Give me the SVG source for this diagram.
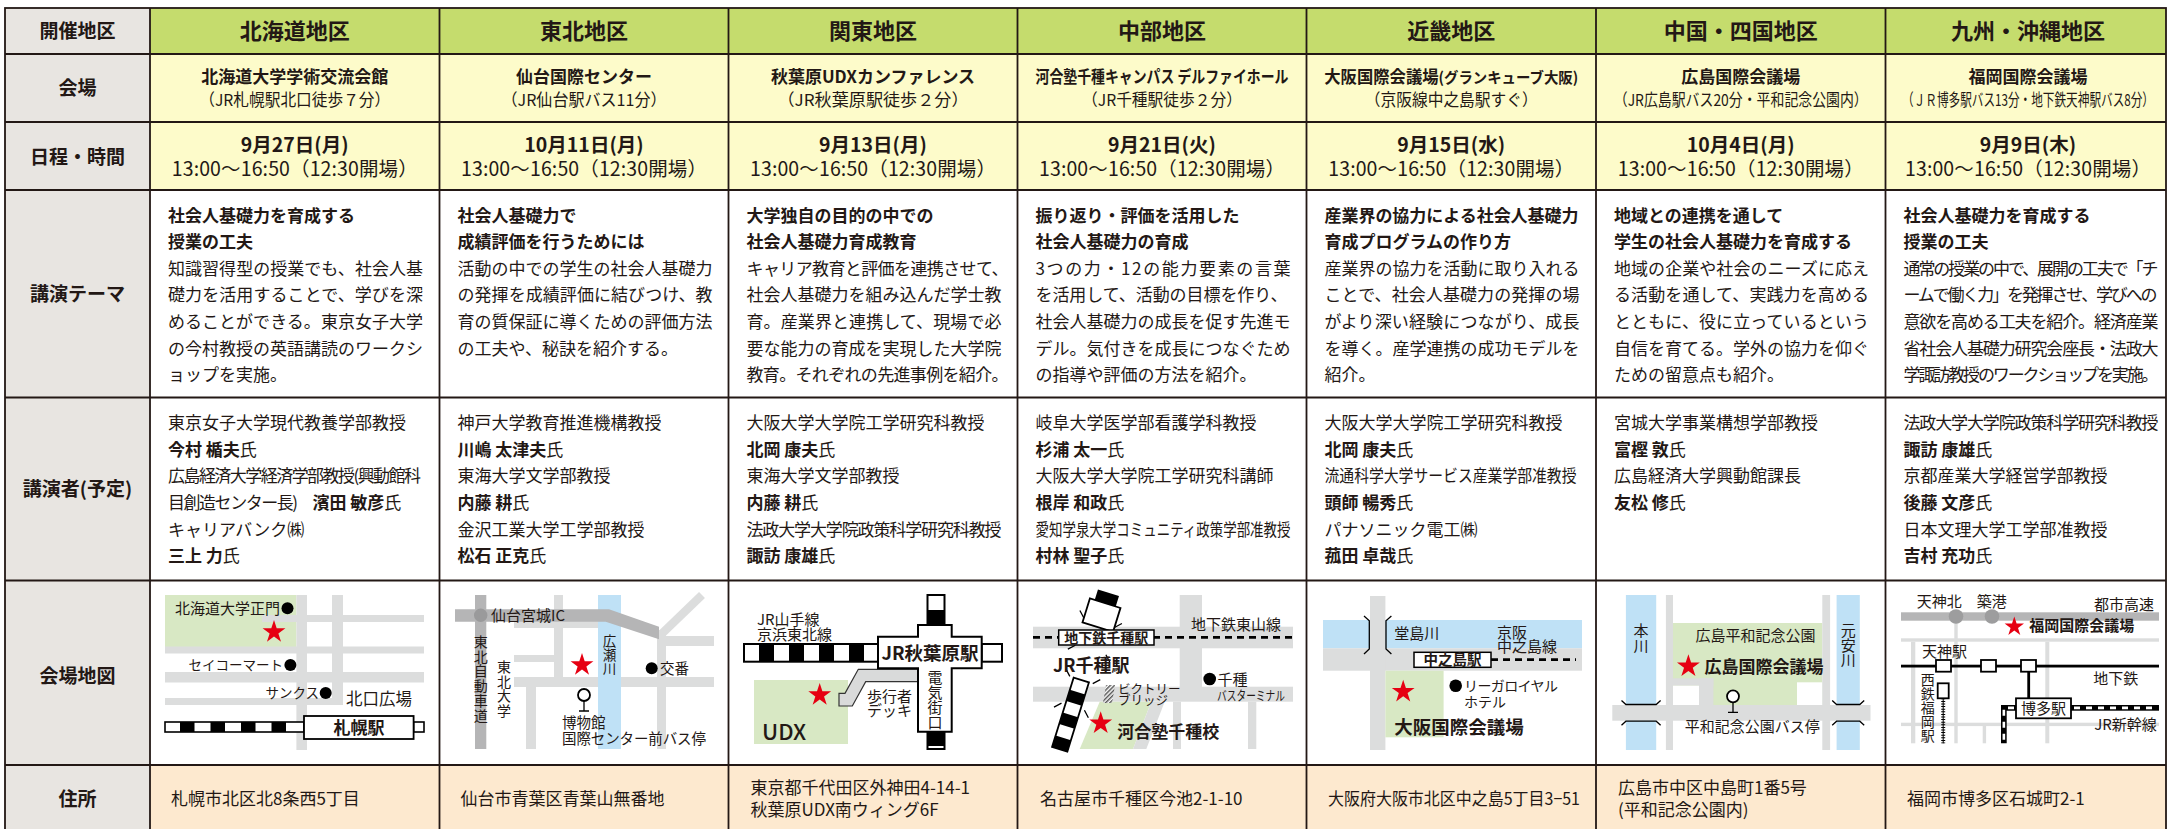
<svg xmlns="http://www.w3.org/2000/svg" width="2168" height="829" viewBox="0 0 2168 829">
<defs>
<style>
text{font-family:"Noto Sans CJK JP","Noto Sans",sans-serif;fill:#231815}
.b{font-weight:700}
.h{font-size:22px;font-weight:700;text-anchor:middle}
.lb{font-size:19px;font-weight:700;text-anchor:middle}
.f17{font-size:17px}
.v2{font-size:16.5px;text-anchor:middle}
.v1{font-size:17px;font-weight:700;text-anchor:middle}
.dt{font-size:19.5px;font-weight:700;text-anchor:middle}
.tm{font-size:19.5px;text-anchor:middle}
.m15{font-size:15px}
.m14{font-size:14.5px}
.m13{font-size:13.5px}
.mid{text-anchor:middle}
.end{text-anchor:end}
.vt{writing-mode:vertical-rl}
.rd{fill:#dcdddd}
.rd2{fill:#b5b5b6}
.rv{fill:#bfe1f6}
.gr{fill:#d8e8c4}
.grid{fill:none;stroke:#231815;stroke-width:1.8}
.bx{fill:#fff;stroke:#000;stroke-width:1.8}
.ln{fill:none;stroke:#000;stroke-width:1.3}
.star{fill:#e60012}
</style>
<path id="star" d="M0,-12 L2.7,-3.71 L11.41,-3.71 L4.37,1.42 L7.05,9.71 L0,4.59 L-7.05,9.71 L-4.37,1.42 L-11.41,-3.71 L-2.7,-3.71 Z"/>
<pattern id="hatch" width="3" height="3" patternUnits="userSpaceOnUse" patternTransform="rotate(45)"><rect width="3" height="3" fill="#fff"/><rect width="1.5" height="3" fill="#555"/></pattern>
</defs>
<rect x="0" y="0" width="2168" height="829" fill="#fff"/>

<g id="table-bg">
<rect x="5" y="8" width="145" height="825" fill="#e8e5e1"/>
<rect x="150" y="8" width="2016" height="46" fill="#c5dc6d"/>
<rect x="150" y="54" width="2016" height="136" fill="#fdfbca"/>
<rect x="150" y="765" width="2016" height="68" fill="#fde9cf"/>
</g>

<g id="header-col">
<text class="lb" x="77.5" y="38">開催地区</text>
<text class="lb" x="77.5" y="95">会場</text>
<text class="lb" x="77.5" y="163.5">日程・時間</text>
<text class="lb" x="77.5" y="300.5">講演テーマ</text>
<text class="lb" x="77.5" y="496">講演者(予定)</text>
<text class="lb" x="77.5" y="683">会場地図</text>
<text class="lb" x="77.5" y="806">住所</text>
</g>

<g id="header-row">
<text class="h" x="294.75" y="39.1">北海道地区</text>
<text class="h" x="584" y="39.1">東北地区</text>
<text class="h" x="873" y="39.1">関東地区</text>
<text class="h" x="1162" y="39.1">中部地区</text>
<text class="h" x="1451.25" y="39.1">近畿地区</text>
<text class="h" x="1740.75" y="39.1">中国・四国地区</text>
<text class="h" x="2028" y="39.1">九州・沖縄地区</text>
</g>

<g id="venue-row">
<text class="v1" x="294.75" y="83.3">北海道大学学術交流会館</text>
<text class="v2" x="294.75" y="106.1" textLength="191" lengthAdjust="spacingAndGlyphs">（JR札幌駅北口徒歩７分）</text>
<text class="v1" x="584" y="83.3">仙台国際センター</text>
<text class="v2" x="584" y="106.1" textLength="165" lengthAdjust="spacingAndGlyphs">（JR仙台駅バス11分）</text>
<text class="v1" x="873" y="83.3">秋葉原UDXカンファレンス</text>
<text class="v2" x="873" y="106.1" textLength="191" lengthAdjust="spacingAndGlyphs">（JR秋葉原駅徒歩２分）</text>
<text class="v1" x="1162" y="83.3" textLength="253" lengthAdjust="spacingAndGlyphs">河合塾千種キャンパス デルファイホール</text>
<text class="v2" x="1162" y="106.1" textLength="160" lengthAdjust="spacingAndGlyphs">（JR千種駅徒歩２分）</text>
<text class="v1" x="1451.25" y="83.3" textLength="254" lengthAdjust="spacingAndGlyphs">大阪国際会議場<tspan font-size="15">(グランキューブ大阪)</tspan></text>
<text class="v2" x="1451.25" y="106.1" textLength="173" lengthAdjust="spacingAndGlyphs">（京阪線中之島駅すぐ）</text>
<text class="v1" x="1740.75" y="83.3">広島国際会議場</text>
<text class="v2" x="1740.75" y="106.1" textLength="254" lengthAdjust="spacingAndGlyphs">（JR広島駅バス20分・平和記念公園内）</text>
<text class="v1" x="2028" y="83.3">福岡国際会議場</text>
<text class="v2" x="2028" y="106.1" textLength="252" lengthAdjust="spacingAndGlyphs">（ＪＲ博多駅バス13分・地下鉄天神駅バス8分）</text>
</g>

<g id="date-row">
<text class="dt" x="294.75" y="152.2">9月27日(月)</text>
<text class="dt" x="584" y="152.2">10月11日(月)</text>
<text class="dt" x="873" y="152.2">9月13日(月)</text>
<text class="dt" x="1162" y="152.2">9月21日(火)</text>
<text class="dt" x="1451.25" y="152.2">9月15日(水)</text>
<text class="dt" x="1740.75" y="152.2">10月4日(月)</text>
<text class="dt" x="2028" y="152.2">9月9日(木)</text>
<text class="tm" x="294.75" y="175.5" textLength="246">13:00～16:50（12:30開場）</text>
<text class="tm" x="584" y="175.5" textLength="246">13:00～16:50（12:30開場）</text>
<text class="tm" x="873" y="175.5" textLength="246">13:00～16:50（12:30開場）</text>
<text class="tm" x="1162" y="175.5" textLength="246">13:00～16:50（12:30開場）</text>
<text class="tm" x="1451.25" y="175.5" textLength="246">13:00～16:50（12:30開場）</text>
<text class="tm" x="1740.75" y="175.5" textLength="246">13:00～16:50（12:30開場）</text>
<text class="tm" x="2028" y="175.5" textLength="246">13:00～16:50（12:30開場）</text>
</g>

<g id="theme-row" class="f17">
<text class="f17 b" x="168" y="221.6">社会人基礎力を育成する</text>
<text class="f17 b" x="168" y="248.2">授業の工夫</text>
<text class="f17" x="168" y="274.8" textLength="255">知識習得型の授業でも、社会人基</text>
<text class="f17" x="168" y="301.4" textLength="255">礎力を活用することで、学びを深</text>
<text class="f17" x="168" y="328" textLength="255">めることができる。東京女子大学</text>
<text class="f17" x="168" y="354.6" textLength="255">の今村教授の英語講読のワークシ</text>
<text class="f17" x="168" y="381.2">ョップを実施。</text>

<text class="f17 b" x="457.5" y="221.6">社会人基礎力で</text>
<text class="f17 b" x="457.5" y="248.2">成績評価を行うためには</text>
<text class="f17" x="457.5" y="274.8" textLength="255">活動の中での学生の社会人基礎力</text>
<text class="f17" x="457.5" y="301.4" textLength="255">の発揮を成績評価に結びつけ、教</text>
<text class="f17" x="457.5" y="328" textLength="255">育の質保証に導くための評価方法</text>
<text class="f17" x="457.5" y="354.6">の工夫や、秘訣を紹介する。</text>

<text class="f17 b" x="746.5" y="221.6">大学独自の目的の中での</text>
<text class="f17 b" x="746.5" y="248.2">社会人基礎力育成教育</text>
<text class="f17" x="746.5" y="274.8" textLength="262">キャリア教育と評価を連携させて、</text>
<text class="f17" x="746.5" y="301.4" textLength="255">社会人基礎力を組み込んだ学士教</text>
<text class="f17" x="746.5" y="328" textLength="255">育。産業界と連携して、現場で必</text>
<text class="f17" x="746.5" y="354.6" textLength="255">要な能力の育成を実現した大学院</text>
<text class="f17" x="746.5" y="381.2" textLength="262">教育。それぞれの先進事例を紹介。</text>

<text class="f17 b" x="1035.5" y="221.6">振り返り・評価を活用した</text>
<text class="f17 b" x="1035.5" y="248.2">社会人基礎力の育成</text>
<text class="f17" x="1035.5" y="274.8" textLength="255">3つの力・12の能力要素の言葉</text>
<text class="f17" x="1035.5" y="301.4" textLength="252">を活用して、活動の目標を作り、</text>
<text class="f17" x="1035.5" y="328" textLength="255">社会人基礎力の成長を促す先進モ</text>
<text class="f17" x="1035.5" y="354.6" textLength="255">デル。気付きを成長につなぐため</text>
<text class="f17" x="1035.5" y="381.2">の指導や評価の方法を紹介。</text>

<text class="f17 b" x="1324.5" y="221.6" textLength="254">産業界の協力による社会人基礎力</text>
<text class="f17 b" x="1324.5" y="248.2">育成プログラムの作り方</text>
<text class="f17" x="1324.5" y="274.8" textLength="255">産業界の協力を活動に取り入れる</text>
<text class="f17" x="1324.5" y="301.4" textLength="255">ことで、社会人基礎力の発揮の場</text>
<text class="f17" x="1324.5" y="328" textLength="255">がより深い経験につながり、成長</text>
<text class="f17" x="1324.5" y="354.6" textLength="255">を導く。産学連携の成功モデルを</text>
<text class="f17" x="1324.5" y="381.2">紹介。</text>

<text class="f17 b" x="1614" y="221.6">地域との連携を通して</text>
<text class="f17 b" x="1614" y="248.2">学生の社会人基礎力を育成する</text>
<text class="f17" x="1614" y="274.8" textLength="255">地域の企業や社会のニーズに応え</text>
<text class="f17" x="1614" y="301.4" textLength="255">る活動を通して、実践力を高める</text>
<text class="f17" x="1614" y="328" textLength="255">とともに、役に立っているという</text>
<text class="f17" x="1614" y="354.6" textLength="255">自信を育てる。学外の協力を仰ぐ</text>
<text class="f17" x="1614" y="381.2">ための留意点も紹介。</text>

<text class="f17 b" x="1903.5" y="221.6">社会人基礎力を育成する</text>
<text class="f17 b" x="1903.5" y="248.2">授業の工夫</text>
<text class="f17" x="1903.5" y="274.8" textLength="255">通常の授業の中で、展開の工夫で「チ</text>
<text class="f17" x="1903.5" y="301.4" textLength="254">ームで働く力」を発揮させ、学びへの</text>
<text class="f17" x="1903.5" y="328" textLength="255">意欲を高める工夫を紹介。経済産業</text>
<text class="f17" x="1903.5" y="354.6" textLength="255">省社会人基礎力研究会座長・法政大</text>
<text class="f17" x="1903.5" y="381.2" textLength="255">学諏訪教授のワークショップを実施。</text>
</g>

<g id="speaker-row">
<text class="f17" x="168" y="428.8">東京女子大学現代教養学部教授</text>
<text class="f17" x="168" y="455.5"><tspan class="b">今村 楯夫</tspan>氏</text>
<text class="f17" x="168" y="482.2" textLength="253">広島経済大学経済学部教授(興動館科</text>
<text class="f17" x="168" y="508.9"><tspan textLength="130">目創造センター長)</tspan><tspan class="b" x="312.5">濱田 敏彦</tspan>氏</text>
<text class="f17" x="168" y="535.6">キャリアバンク㈱</text>
<text class="f17" x="168" y="562.3"><tspan class="b">三上 力</tspan>氏</text>

<text class="f17" x="457.5" y="428.8">神戸大学教育推進機構教授</text>
<text class="f17" x="457.5" y="455.5"><tspan class="b">川嶋 太津夫</tspan>氏</text>
<text class="f17" x="457.5" y="482.2">東海大学文学部教授</text>
<text class="f17" x="457.5" y="508.9"><tspan class="b">内藤 耕</tspan>氏</text>
<text class="f17" x="457.5" y="535.6">金沢工業大学工学部教授</text>
<text class="f17" x="457.5" y="562.3"><tspan class="b">松石 正克</tspan>氏</text>

<text class="f17" x="746.5" y="428.8">大阪大学大学院工学研究科教授</text>
<text class="f17" x="746.5" y="455.5"><tspan class="b">北岡 康夫</tspan>氏</text>
<text class="f17" x="746.5" y="482.2">東海大学文学部教授</text>
<text class="f17" x="746.5" y="508.9"><tspan class="b">内藤 耕</tspan>氏</text>
<text class="f17" x="746.5" y="535.6" textLength="255">法政大学大学院政策科学研究科教授</text>
<text class="f17" x="746.5" y="562.3"><tspan class="b">諏訪 康雄</tspan>氏</text>

<text class="f17" x="1035.5" y="428.8">岐阜大学医学部看護学科教授</text>
<text class="f17" x="1035.5" y="455.5"><tspan class="b">杉浦 太一</tspan>氏</text>
<text class="f17" x="1035.5" y="482.2">大阪大学大学院工学研究科講師</text>
<text class="f17" x="1035.5" y="508.9"><tspan class="b">根岸 和政</tspan>氏</text>
<text class="f17" x="1035.5" y="535.6" textLength="255" lengthAdjust="spacingAndGlyphs">愛知学泉大学コミュニティ政策学部准教授</text>
<text class="f17" x="1035.5" y="562.3"><tspan class="b">村林 聖子</tspan>氏</text>

<text class="f17" x="1324.5" y="428.8">大阪大学大学院工学研究科教授</text>
<text class="f17" x="1324.5" y="455.5"><tspan class="b">北岡 康夫</tspan>氏</text>
<text class="f17" x="1324.5" y="482.2" textLength="252" lengthAdjust="spacingAndGlyphs">流通科学大学サービス産業学部准教授</text>
<text class="f17" x="1324.5" y="508.9"><tspan class="b">頭師 暢秀</tspan>氏</text>
<text class="f17" x="1324.5" y="535.6">パナソニック電工㈱</text>
<text class="f17" x="1324.5" y="562.3"><tspan class="b">菰田 卓哉</tspan>氏</text>

<text class="f17" x="1614" y="428.8">宮城大学事業構想学部教授</text>
<text class="f17" x="1614" y="455.5"><tspan class="b">富樫 敦</tspan>氏</text>
<text class="f17" x="1614" y="482.2">広島経済大学興動館課長</text>
<text class="f17" x="1614" y="508.9"><tspan class="b">友松 修</tspan>氏</text>

<text class="f17" x="1903.5" y="428.8" textLength="255">法政大学大学院政策科学研究科教授</text>
<text class="f17" x="1903.5" y="455.5"><tspan class="b">諏訪 康雄</tspan>氏</text>
<text class="f17" x="1903.5" y="482.2">京都産業大学経営学部教授</text>
<text class="f17" x="1903.5" y="508.9"><tspan class="b">後藤 文彦</tspan>氏</text>
<text class="f17" x="1903.5" y="535.6">日本文理大学工学部准教授</text>
<text class="f17" x="1903.5" y="562.3"><tspan class="b">吉村 充功</tspan>氏</text>
</g>

<g id="map-hokkaido">
<rect class="gr" x="165" y="595" width="131.4" height="52"/>
<rect class="rd" x="296.4" y="595" width="10.6" height="155"/>
<rect class="rd" x="332" y="595" width="11" height="110"/>
<rect class="rd" x="262" y="615" width="162" height="7"/>
<rect class="rd" x="165" y="646.5" width="259" height="7"/>
<rect class="rd" x="165" y="672" width="259" height="10.5"/>
<rect class="rd" x="165" y="698" width="178" height="7"/>
<rect x="165" y="722" width="139" height="10" fill="#fff" stroke="#000" stroke-width="1.6"/>
<rect x="180" y="722" width="14.5" height="10" fill="#000"/>
<rect x="210.5" y="722" width="14.5" height="10" fill="#000"/>
<rect x="241" y="722" width="14.5" height="10" fill="#000"/>
<rect x="271.5" y="722" width="14.5" height="10" fill="#000"/>
<rect x="413.6" y="722" width="10.4" height="10" fill="#fff" stroke="#000" stroke-width="1.6"/>
<rect class="bx" x="304" y="716" width="109.6" height="23"/>
<text class="f17 b mid" x="359" y="733.8">札幌駅</text>
<text class="m15 end" x="280" y="613.8">北海道大学正門</text>
<circle cx="287.5" cy="608.3" r="6"/>
<use href="#star" class="star" transform="translate(274,632)"/>
<text class="m13 end" x="283" y="670">セイコーマート</text>
<circle cx="290.4" cy="665" r="6"/>
<text class="m13 end" x="319" y="698">サンクス</text>
<circle cx="325.7" cy="693" r="6"/>
<text class="mid" font-size="16.5" x="379" y="705.1">北口広場</text>
</g>

<g id="map-tohoku">
<rect class="rd" x="554" y="595" width="9" height="82"/>
<rect class="rd" x="514" y="621" width="98" height="7"/>
<rect class="rd" x="514" y="655" width="40" height="7"/>
<rect class="rd" x="514" y="677" width="200" height="10"/>
<rect class="rd" x="659" y="636" width="55" height="10"/>
<rect class="rd" x="526" y="687" width="10" height="62"/>
<rect class="rd" x="657" y="630" width="9" height="119"/>
<path d="M661.5,634 L702,595" stroke="#dcdddd" stroke-width="8.5" fill="none"/>
<rect class="rv" x="598" y="595" width="23" height="154"/>
<rect class="rd2" x="475" y="595" width="11.3" height="154"/>
<polygon class="rd2" points="455,609.3 609,609.3 659,626.7 659,639.3 605.7,621.7 455,621.7"/>
<circle cx="480.7" cy="615.3" r="6.7" fill="#9a9a9b"/>
<text class="m15" x="491" y="620.8">仙台宮城IC</text>
<text class="vt" font-size="14" letter-spacing="0.7" x="480.7" y="634.7">東北自動車道</text>
<text class="vt" font-size="14" letter-spacing="0.5" x="504" y="660">東北大学</text>
<text class="vt" font-size="13.5" letter-spacing="0.5" x="609.5" y="633.7">広瀬川</text>
<use href="#star" class="star" transform="translate(582,665)"/>
<circle cx="651.7" cy="668.3" r="6"/>
<text class="m14" x="660" y="673.7">交番</text>
<circle cx="584" cy="695" r="6" fill="#fff" stroke="#000" stroke-width="1.8"/>
<path class="ln" d="M584,701 V711 M579,711 H589" stroke-width="1.8"/>
<text class="m14" x="562" y="728.4">博物館</text>
<text class="m14" x="562" y="744.4" textLength="144">国際センター前バス停</text>
</g>

<g id="map-kanto">
<rect class="gr" x="754" y="680" width="94" height="64"/>
<polygon points="858.3,669.3 921.7,669.3 921.7,681.7 865.7,681.7 852.3,706 839,706 839,693.3 845,693.3" fill="#d9dada" stroke="#333" stroke-width="1.2"/>
<rect x="744" y="644" width="135" height="17.7" fill="#fff" stroke="#000" stroke-width="2"/>
<rect x="759" y="644" width="15" height="17.7" fill="#000"/>
<rect x="789" y="644" width="15" height="17.7" fill="#000"/>
<rect x="819" y="644" width="15" height="17.7" fill="#000"/>
<rect x="849" y="644" width="15" height="17.7" fill="#000"/>
<rect x="981.7" y="644" width="20.3" height="17.7" fill="#fff" stroke="#000" stroke-width="2"/>
<rect x="927.5" y="595" width="17" height="31" fill="#fff" stroke="#000" stroke-width="2"/>
<rect x="927.5" y="610" width="17" height="14" fill="#000"/>
<rect x="927.5" y="731.7" width="17" height="17.3" fill="#fff" stroke="#000" stroke-width="2"/>
<rect x="927.5" y="731.7" width="17" height="14.3" fill="#000"/>
<polygon points="918,625 951.7,625 951.7,636.7 981.7,636.7 981.7,668.3 951.7,668.3 951.7,731.7 918,731.7 918,668.3 878,668.3 878,636.7 918,636.7" fill="#fff" stroke="#000" stroke-width="2"/>
<text class="b mid" font-size="18.5" x="930" y="659.8">JR秋葉原駅</text>
<text class="vt" font-size="15" letter-spacing="0.2" x="935" y="669.5">電気街口</text>
<text class="m15" x="867" y="701.5">歩行者</text>
<text class="m15" x="867" y="716.2">デッキ</text>
<text class="m15" x="757" y="624.5">JR山手線</text>
<text class="m15" x="757" y="639.5">京浜東北線</text>
<text font-size="22" font-weight="500" x="762" y="739.8">UDX</text>
<use href="#star" class="star" transform="translate(819.7,695)"/>
</g>

<g id="map-chubu">
<rect class="rd" x="1033" y="626.7" width="260" height="21.6"/>
<rect class="rd" x="1033" y="686.7" width="260" height="15"/>
<rect class="rd" x="1179.7" y="595" width="22.3" height="92"/>
<rect class="rd" x="1173" y="701.7" width="8" height="47.3"/>
<rect class="rd" x="1248" y="701.7" width="8.3" height="47.3"/>
<polygon class="gr" points="1099.7,701.7 1151.3,701.7 1133,749 1079.7,749"/>
<polygon class="rd" points="1151.3,701.7 1164.7,701.7 1146.3,749 1133,749"/>
<g transform="translate(1059.7,749.3) rotate(17.3)">
<rect x="-8" y="-72.6" width="16" height="72.6" fill="#fff" stroke="#000" stroke-width="1.8"/>
<rect x="-8" y="-12" width="16" height="12" fill="#000"/>
<rect x="-8" y="-36" width="16" height="12" fill="#000"/>
<rect x="-8" y="-60" width="16" height="12" fill="#000"/>
<rect x="-16" y="-153" width="32" height="25" fill="#fff" stroke="#000" stroke-width="1.8"/>
<rect x="-11" y="-164" width="22" height="11" fill="#000"/>
<path class="ln" d="M-12,-72.6 L-18,-78.6 M12,-72.6 L18,-78.6 M-12,-44.6 L-18,-38.6 M12,-44.6 L18,-38.6 M-16,-104 L-22,-98 M16,-104 L22,-98 M-16,-132.6 L-22,-138.6 M16,-132.6 L22,-138.6"/>
</g>
<line x1="1033" y1="637.3" x2="1293" y2="637.3" stroke="#000" stroke-width="2.8" stroke-dasharray="7 5"/>
<rect x="1058.7" y="630" width="95.3" height="15" fill="#fff" stroke="#000" stroke-width="1.5"/>
<text class="b mid" font-size="14" x="1106.3" y="642.7">地下鉄千種駅</text>
<text class="m15" x="1191" y="629.5">地下鉄東山線</text>
<text class="b" font-size="18" x="1053" y="671.7">JR千種駅</text>
<polygon points="1106,685 1115,685 1112,703 1103,703" fill="url(#hatch)"/>
<text font-size="12.5" x="1118" y="693.6">ビクトリー</text>
<text font-size="12.5" x="1118" y="705.1">ブリッジ</text>
<circle cx="1209.7" cy="679" r="6.3"/>
<text class="m15" x="1217.5" y="684.5">千種</text>
<text font-size="13" x="1217" y="699.8" textLength="68" lengthAdjust="spacingAndGlyphs">バスターミナル</text>
<use href="#star" class="star" transform="translate(1100.7,723.3)"/>
<text class="f17 b" x="1117.3" y="738">河合塾千種校</text>
</g>

<g id="map-kinki">
<rect class="rv" x="1323" y="620" width="259" height="28.3"/>
<rect class="rd" x="1323" y="648.3" width="259" height="22.4"/>
<rect class="rd" x="1370" y="596" width="15.4" height="154"/>
<path class="ln" d="M1364,616 L1369.3,620.7 L1369.3,649 L1364,654 M1391.4,616 L1386,620.7 L1386,649 L1391.4,654"/>
<rect class="gr" x="1385.4" y="670.7" width="58.2" height="66.6"/>
<text class="m15" x="1394.3" y="638.8">堂島川</text>
<text class="m15" x="1497" y="637.8">京阪</text>
<text class="m15" x="1497" y="652.2">中之島線</text>
<line x1="1491" y1="659.7" x2="1576" y2="659.7" stroke="#000" stroke-width="2.8" stroke-dasharray="7 5"/>
<rect x="1414" y="652.3" width="77" height="15" fill="#fff" stroke="#000" stroke-width="1.5"/>
<text class="b mid" font-size="14.5" x="1452.5" y="665.2">中之島駅</text>
<use href="#star" class="star" transform="translate(1403.2,691.7)"/>
<circle cx="1455.7" cy="685.7" r="6.3"/>
<text font-size="14" x="1464" y="690.9" textLength="94">リーガロイヤル</text>
<text font-size="14" x="1464" y="706.5">ホテル</text>
<text class="b" font-size="18.5" x="1394.3" y="734.2">大阪国際会議場</text>
</g>

<g id="map-chugoku">
<rect class="rv" x="1625.9" y="595" width="30.3" height="155"/>
<rect class="rv" x="1836.6" y="595" width="23.2" height="155"/>
<rect class="gr" x="1673" y="623" width="149.3" height="82"/>
<rect x="1797" y="682.3" width="25.3" height="22.7" fill="#fff"/>
<rect class="rd" x="1673" y="678.3" width="40.4" height="7.4"/>
<rect class="rd" x="1699" y="678.3" width="14.4" height="26.7"/>
<rect x="1673" y="685.7" width="26" height="19.3" fill="#fff"/>
<rect class="rd" x="1665.9" y="595" width="7.1" height="155"/>
<rect class="rd" x="1822.3" y="595" width="7.8" height="155"/>
<rect class="rd" x="1612.3" y="705" width="258.2" height="15.7"/>
<path class="ln" d="M1621.5,700.5 L1625.9,704.5 L1656.2,704.5 L1660.6,700.5 M1621.5,725.2 L1625.9,721.2 L1656.2,721.2 L1660.6,725.2 M1832.2,700.5 L1836.6,704.5 L1859.8,704.5 L1864.2,700.5 M1832.2,725.2 L1836.6,721.2 L1859.8,721.2 L1864.2,725.2" stroke-width="1"/>
<text class="vt" font-size="15" letter-spacing="1" x="1641" y="623.2">本川</text>
<text class="vt" font-size="15" letter-spacing="0.35" x="1848.2" y="622.5">元安川</text>
<text class="m15" x="1695.5" y="640.5">広島平和記念公園</text>
<use href="#star" class="star" transform="translate(1688.4,666.3)"/>
<text class="f17 b" x="1704.4" y="672.6">広島国際会議場</text>
<circle cx="1733" cy="696.3" r="6" fill="#fff" stroke="#000" stroke-width="1.8"/>
<path class="ln" d="M1733,702.3 V712.3 M1728,712.3 H1738" stroke-width="1.8"/>
<text class="m15" x="1684.8" y="731.8">平和記念公園バス停</text>
</g>

<g id="map-kyushu">
<rect class="rd2" x="1901" y="612.3" width="258" height="8.4"/>
<rect class="rd" x="1901" y="638.3" width="258" height="3.4"/>
<rect class="rd" x="1911" y="641.7" width="4.3" height="101.6"/>
<rect class="rd" x="1954.3" y="620.7" width="3.4" height="122.6"/>
<rect class="rd" x="2045.3" y="641.7" width="4" height="101.6"/>
<rect class="rd" x="1982.7" y="724" width="3.4" height="19.3"/>
<rect class="rd" x="1901" y="722.7" width="258" height="3.4"/>
<circle cx="1956" cy="616.5" r="7.3" fill="#9d9d9e"/>
<circle cx="1992" cy="616.5" r="7.3" fill="#9d9d9e"/>
<text class="m15" x="1916.7" y="607.2">天神北</text>
<text class="m15" x="1976.7" y="607.2">築港</text>
<text class="m15" x="2094" y="609.5">都市高速</text>
<use href="#star" class="star" transform="translate(2014.3,626.7) scale(0.85)"/>
<text class="m15 b" x="2029.3" y="630.5">福岡国際会議場</text>
<text class="m15" x="1922" y="656.5">天神駅</text>
<rect x="1901" y="664.7" width="258" height="2.8" fill="#000"/>
<rect class="bx" x="1936" y="660" width="15" height="11.7"/>
<rect class="bx" x="1981" y="660" width="15" height="11.7"/>
<rect class="bx" x="2021" y="660" width="15" height="11.7"/>
<rect x="2027.3" y="671.7" width="2.8" height="26.6" fill="#000"/>
<text class="m15" x="2093.3" y="683.8">地下鉄</text>
<rect x="2071" y="705" width="88" height="5.7" fill="#000"/>
<line x1="2074" y1="707.85" x2="2158" y2="707.85" stroke="#fff" stroke-width="2.6" stroke-dasharray="6 6"/>
<polyline points="2016,707.85 2003.85,707.85 2003.85,743.3" fill="none" stroke="#000" stroke-width="5.7"/>
<polyline points="2014,707.85 2003.85,707.85 2003.85,743.3" fill="none" stroke="#fff" stroke-width="2.6" stroke-dasharray="6 6"/>
<rect class="bx" x="2016" y="698.3" width="55" height="20"/>
<text class="m15 mid" x="2043.5" y="713.8">博多駅</text>
<text class="m15" x="2094.3" y="729.5">JR新幹線</text>
<text class="vt" font-size="14" letter-spacing="0.1" x="1927.7" y="672.3">西鉄福岡駅</text>
<rect class="bx" x="1937.7" y="683.3" width="11" height="15"/>
<line x1="1943.2" y1="698.3" x2="1943.2" y2="743.3" stroke="#000" stroke-width="1"/>
<line x1="1943.2" y1="698.3" x2="1943.2" y2="743.3" stroke="#000" stroke-width="4" stroke-dasharray="1 1.6"/>
</g>

<g id="address-row" class="f17">
<text class="f17" x="171" y="805.3">札幌市北区北8条西5丁目</text>
<text class="f17" x="460.5" y="805.3">仙台市青葉区青葉山無番地</text>
<text class="f17" x="750.5" y="793.6">東京都千代田区外神田4-14-1</text>
<text class="f17" x="750.5" y="816">秋葉原UDX南ウィング6F</text>
<text class="f17" x="1040" y="805.3">名古屋市千種区今池2-1-10</text>
<text class="f17" x="1328" y="805.3" textLength="252" lengthAdjust="spacingAndGlyphs">大阪府大阪市北区中之島5丁目3−51</text>
<text class="f17" x="1618" y="793.6">広島市中区中島町1番5号</text>
<text class="f17" x="1618" y="816">(平和記念公園内)</text>
<text class="f17" x="1907" y="805.3">福岡市博多区石城町2-1</text>
</g>

<g id="grid">
<rect class="grid" x="5" y="8" width="2161" height="825"/>
<path class="grid" d="M5,54 H2166 M5,122 H2166 M5,190 H2166 M5,397.5 H2166 M5,580.5 H2166 M5,765 H2166 M150,8 V833 M439.5,8 V833 M728.5,8 V833 M1017.5,8 V833 M1306.5,8 V833 M1596,8 V833 M1885.5,8 V833"/>
</g>
</svg>
